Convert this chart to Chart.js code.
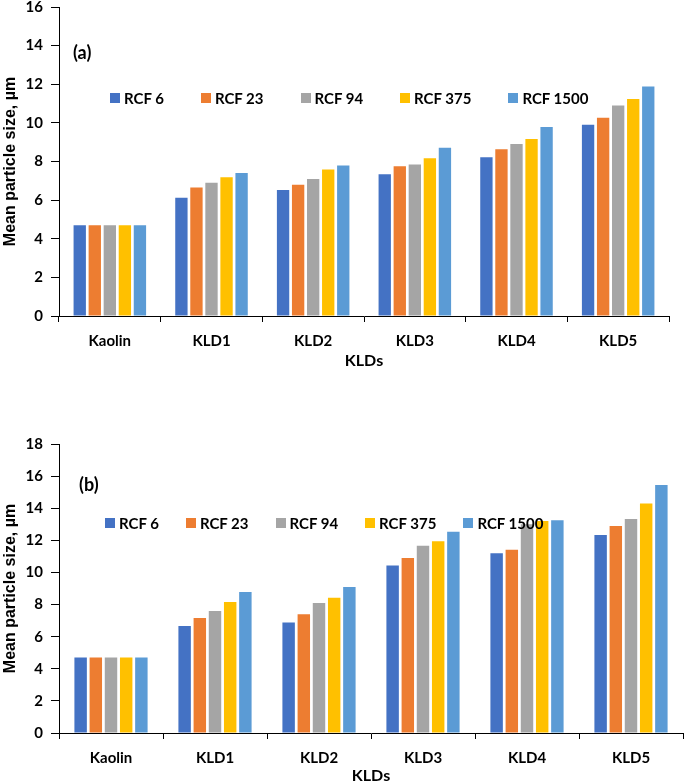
<!DOCTYPE html>
<html>
<head>
  <title>Mean particle size of KLDs</title>
  <meta charset="utf-8">
  <style>
    body { margin:0; background:#fff; width:685px; height:781px; overflow:hidden; }
    .panel { position:relative; width:685px; overflow:hidden; }
    .panel canvas { display:block; }
    .tag { position:absolute; font:bold 18px Lato, sans-serif; line-height:18px; color:#000; }
    .legend { position:absolute; display:flex; font:bold 15px Lato, sans-serif; line-height:18px; color:#000; white-space:nowrap; }
    .legend .item { display:flex; align-items:center; }
    .legend .swatch { display:inline-block; width:10px; height:10px; margin-right:4px; }
  </style>
</head>
<body>
  <script src="https://cdn.jsdelivr.net/npm/chart.js"></script>
  <div class="panel" style="height:390px;">
    <canvas id="chartA" width="685" height="390"></canvas>
    <div class="tag" style="left:73px; top:43px;">(a)</div>
    <div class="legend" id="legendA" style="left:110px; top:89px; gap:37px;"></div>
  </div>
  <div class="panel" style="height:391px;">
    <canvas id="chartB" width="685" height="417"></canvas>
    <div class="tag" style="left:79px; top:85px;">(b)</div>
    <div class="legend" id="legendB" style="left:105px; top:124px; gap:27px;"></div>
  </div>
<script>
    // categories and series
    const categories = ['Kaolin', 'KLD1', 'KLD2', 'KLD3', 'KLD4', 'KLD5'];
    const seriesNames = ['RCF 6', 'RCF 23', 'RCF 94', 'RCF 375', 'RCF 1500'];
    const seriesColors = ['#4472C4', '#ED7D31', '#A5A5A5', '#FFC000', '#5B9BD5'];

    // panel (a)
    const rcf6A    = [4.7, 6.12, 6.52, 7.34, 8.22, 9.90];
    const rcf23A   = [4.7, 6.66, 6.79, 7.76, 8.64, 10.26];
    const rcf94A   = [4.7, 6.90, 7.09, 7.84, 8.91, 10.90];
    const rcf375A  = [4.7, 7.19, 7.59, 8.17, 9.17, 11.24];
    const rcf1500A = [4.7, 7.40, 7.79, 8.71, 9.78, 11.88];
    const yMaxA = 16;

    // panel (b)
    const rcf6B    = [4.7, 6.66, 6.89, 10.44, 11.19, 12.33];
    const rcf23B   = [4.7, 7.16, 7.39, 10.90, 11.42, 12.89];
    const rcf94B   = [4.7, 7.60, 8.10, 11.67, 13.00, 13.33];
    const rcf375B  = [4.7, 8.16, 8.43, 11.94, 13.20, 14.30];
    const rcf1500B = [4.7, 8.78, 9.09, 12.54, 13.25, 15.45];
    const yMaxB = 18;

    const yStep = 2;

    function makeChart(canvasId, seriesData, yMax, opts) {
        const ctx = document.getElementById(canvasId).getContext('2d');
        const tickFont = { family: 'Lato', weight: 'bold', size: 15 };
        return new Chart(ctx, {
            type: 'bar',
            data: {
                labels: categories,
                datasets: seriesData.map((values, i) => ({
                    label: seriesNames[i],
                    data: values,
                    backgroundColor: seriesColors[i],
                    borderWidth: 0,
                    categoryPercentage: opts.catPct,
                    barPercentage: 0.82
                }))
            },
            options: {
                responsive: false,
                animation: false,
                layout: { padding: { left: 0, right: opts.padRight, top: opts.padTop, bottom: 0 } },
                plugins: {
                    legend: { display: false },
                    tooltip: { enabled: false }
                },
                scales: {
                    x: {
                        grid: { offset: true, drawOnChartArea: false, color: '#000', tickLength: 6 },
                        border: { color: '#000', width: 1 },
                        ticks: { color: '#000', font: tickFont, padding: 10 },
                        title: {
                            display: true, text: 'KLDs', color: '#000',
                            font: { family: 'Lato', weight: 'bold', size: 16 },
                            padding: { top: 0, bottom: opts.titleBottom }
                        },
                        afterFit: scale => { scale.height = 74; }
                    },
                    y: {
                        min: 0,
                        max: yMax,
                        grid: { drawOnChartArea: false, color: '#000', tickLength: 8 },
                        border: { color: '#000', width: 1 },
                        ticks: { stepSize: yStep, color: '#000', font: tickFont, padding: 8 },
                        title: {
                            display: true, text: 'Mean particle size, µm', color: '#000',
                            font: { family: 'Liberation Sans', weight: 'bold', size: 16 },
                            padding: { top: 1, bottom: 0 }
                        },
                        afterFit: scale => {
                            scale.width = 59;
                            scale.paddingTop = 7;
                        }
                    }
                }
            }
        });
    }

    function buildLegend(elId, chart) {
        const box = document.getElementById(elId);
        chart.data.datasets.forEach(ds => {
            const item = document.createElement('span');
            item.className = 'item';
            const sw = document.createElement('span');
            sw.className = 'swatch';
            sw.style.background = ds.backgroundColor;
            item.appendChild(sw);
            item.appendChild(document.createTextNode(ds.label));
            box.appendChild(item);
        });
    }

    const chartA = makeChart('chartA', [rcf6A, rcf23A, rcf94A, rcf375A, rcf1500A], yMaxA,
        { catPct: 0.74, padRight: 16, padTop: 0, titleBottom: 20 });
    const chartB = makeChart('chartB', [rcf6B, rcf23B, rcf94B, rcf375B, rcf1500B], yMaxB,
        { catPct: 0.73, padRight: 2, padTop: 54, titleBottom: 22 });

    buildLegend('legendA', chartA);
    buildLegend('legendB', chartB);
</script>
</body>
</html>
